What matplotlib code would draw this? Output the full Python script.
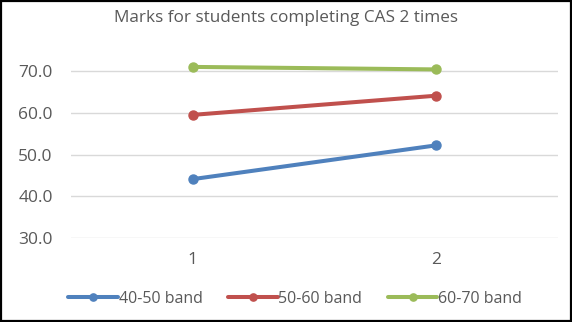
import matplotlib
matplotlib.use('Agg')
import matplotlib.pyplot as plt
from matplotlib.patches import Rectangle

# datos
times = [1, 2]
band_40_50 = [44.1, 52.2]
band_50_60 = [59.5, 64.1]
band_60_70 = [71.0, 70.4]
labels = ['40-50 band', '50-60 band', '60-70 band']
colors = ['#4F81BD', '#C0504D', '#9BBB59']

plt.rcParams['font.family'] = ['Open Sans', 'DejaVu Sans']
grey = '#595959'

fig = plt.figure(figsize=(5.72, 3.22), dpi=100)
ax = fig.add_axes([0.124, 0.261, 0.8515, 0.596])

for vals, lab, c in zip([band_40_50, band_50_60, band_60_70], labels, colors):
    ax.plot(times, vals, color=c, linewidth=2.9, marker='o', markersize=6.5,
            label=lab, solid_capstyle='round')

ax.set_xlim(0.5, 2.5)
ax.set_ylim(30, 76)
ax.set_yticks([30, 40, 50, 60, 70])
ax.set_yticklabels(['%.1f' % v for v in [30, 40, 50, 60, 70]])
ax.set_xticks(times)
ax.grid(axis='y', color='#D9D9D9', linewidth=1)
ax.set_axisbelow(True)
for s in ax.spines.values():
    s.set_visible(False)
ax.tick_params(axis='both', length=0, colors=grey, labelsize=12.5)
ax.tick_params(axis='y', pad=13)
ax.tick_params(axis='x', pad=10)

fig.text(0.5, 0.945, 'Marks for students completing CAS 2 times', ha='center',
         va='center', color=grey, fontsize=12.3)

fig.legend(loc='center', bbox_to_anchor=(0.516, 0.072), ncol=3, frameon=False,
           fontsize=11.5, handlelength=3.1, columnspacing=1.6, handletextpad=0.05,
           labelcolor=grey, markerscale=0.8)

# borde negro
fig.patches.append(Rectangle((0.002, 0.003), 0.996, 0.994, transform=fig.transFigure,
                             fill=False, edgecolor='black', linewidth=1.6))

fig.savefig('out.png', dpi=100)
